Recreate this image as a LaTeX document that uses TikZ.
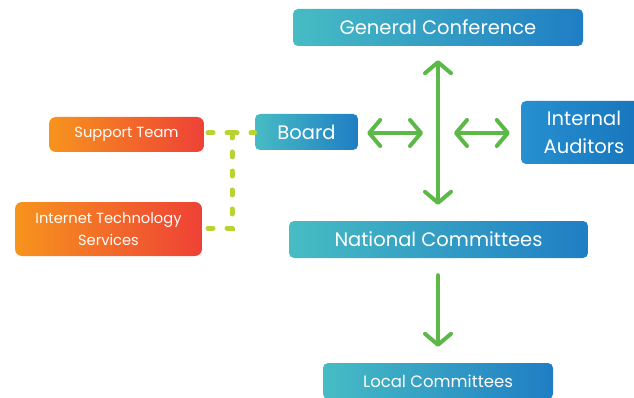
\documentclass[tikz,border=0pt]{standalone}
\usepackage{fontspec}
\setmainfont{Poppins}
\usetikzlibrary{arrows.meta}
\definecolor{cteal}{HTML}{47BCC4}
\definecolor{clight}{HTML}{27AAE1}
\definecolor{cblue}{HTML}{1F7EC4}
\definecolor{cblueL}{HTML}{2690D0}
\definecolor{cblueD}{HTML}{1774BC}
\definecolor{corangeL}{HTML}{F7941D}
\definecolor{corangeR}{HTML}{EE4136}
\definecolor{cgreen}{HTML}{5DB947}
\definecolor{cyellow}{HTML}{B7D433}
\tikzset{
  box/.style={rounded corners=5pt, inner sep=0pt, text=white, align=center},
  bluebox/.style={box, left color=cteal, middle color=clight, right color=cblue},
  audbox/.style={box, left color=cblueL, right color=cblueD},
  orangebox/.style={box, rounded corners=7pt, left color=corangeL, right color=corangeR},
  bigtext/.style={font=\fontsize{19.5}{28}\selectfont},
  midtext/.style={font=\fontsize{16.5}{20}\selectfont},
  smalltext/.style={font=\fontsize{14.7}{22}\selectfont},
  garrow/.style={draw=cgreen, line width=4pt, line cap=round,
    arrows={Straight Barb[length=11pt,width=26pt,round]-Straight Barb[length=11pt,width=26pt,round]}},
  garrowend/.style={draw=cgreen, line width=4pt, line cap=round,
    arrows={-Straight Barb[length=11pt,width=26pt,round]}},
  dashline/.style={draw=cyellow, line width=5pt, line cap=round, dash pattern=on 5pt off 14pt}
}
\begin{document}
\begin{tikzpicture}[x=1pt,y=1pt]
\clip (0,0) rectangle (634,-398);
\fill[white] (0,0) rectangle (634,-398);
\node[bluebox, bigtext, minimum width=290pt, minimum height=37pt] (GC) at (438,-27.5) {General Conference};
\node[bluebox, bigtext, minimum width=103pt, minimum height=36pt] (Board) at (306.5,-132) {Board};
\node[audbox, bigtext, minimum width=126pt, minimum height=63pt] (IA) at (584,-132.5) {Internal\\Auditors};
\node[bluebox, bigtext, minimum width=299pt, minimum height=37pt] (NC) at (438.5,-239.5) {National Committees};
\node[bluebox, midtext, minimum width=230pt, minimum height=36pt] (LC) at (438,-381) {Local Committees};
\node[orangebox, smalltext, minimum width=155pt, minimum height=35pt] (ST) at (126.5,-134.5) {Support Team};
\node[orangebox, smalltext, minimum width=187pt, minimum height=54pt] (ITS) at (108.5,-229) {Internet Technology\\Services};
\coordinate (c) at (438,-133);
\coordinate (j) at (232,-133);
\coordinate (k) at (232,-228);
\draw[dashline] (j) -- (ST.east |- j);
\draw[dashline] (j) -- (Board.west |- j);
\draw[dashline] (j) -- (k) -- (ITS.east |- k);
\draw[garrow, shorten <=14pt, shorten >=16pt] (GC.south) -- (GC.south |- NC.north);
\draw[garrow, shorten <=9pt, shorten >=15pt] (Board.east |- c) -- (c);
\draw[garrow, shorten <=16pt, shorten >=11pt] (c) -- (IA.west |- c);
\draw[garrowend, shorten <=17pt, shorten >=16pt] (NC.south -| c) -- (LC.north -| c);
\end{tikzpicture}
\end{document}
